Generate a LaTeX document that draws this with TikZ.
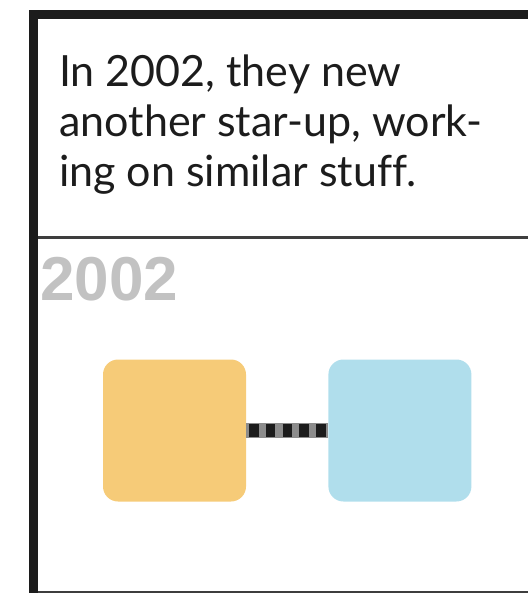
\documentclass[tikz,border=0pt]{standalone}
\usepackage{fontspec}
\setsansfont{Lato}[Ligatures=NoCommon]
\usepackage{tikz}
\usetikzlibrary{positioning, calc}
\tikzset{every node/.style={font=\sffamily}}
\usepackage{xcolor}
\definecolor{ochre}{HTML}{F6CB78}
\definecolor{skyblue}{HTML}{B0DEEC}
\definecolor{yeargray}{HTML}{C2C2C2}
\definecolor{frame}{HTML}{1C1C1C}

\begin{document}
\begin{tikzpicture}[x=1pt, y=-1pt, firm/.style={fill=#1, rounded corners=15pt, minimum width=143pt, minimum height=142pt, inner sep=0pt}]
        \useasboundingbox (0,0) rectangle (528,593);
        \draw[frame, line width=9pt] (33.5,593) -- (33.5,14.5) -- (528,14.5);
        \draw[frame!85, line width=3pt] (38,238) -- (528,238);
        \draw[frame!85, line width=2pt] (38,592) -- (528,592);
        \node[anchor=north west, align=left, inner sep=0pt, text=frame, font=\sffamily\fontsize{43}{50}\selectfont] (story) at (59,55) {In 2002, they new\\another star-up, work-\\ing on similar stuff.};
        \node[anchor=base west, inner sep=0pt, text=yeargray, font=\fontspec{Liberation Sans}\bfseries\fontsize{62}{62}\selectfont] (year) at (40,300) {2002};
        \node[firm=ochre] (first) at (174.5,430.5) {};
        \node[firm=skyblue, right=82pt of first] (second) {};
        \draw[line width=15.5pt, gray!90] (first.east) -- (second.west);
        \draw[line width=13pt, frame, dash pattern=on 9.5pt off 7.2pt, dash phase=13.7pt] (first.east) -- (second.west);
      \end{tikzpicture}
\end{document}
